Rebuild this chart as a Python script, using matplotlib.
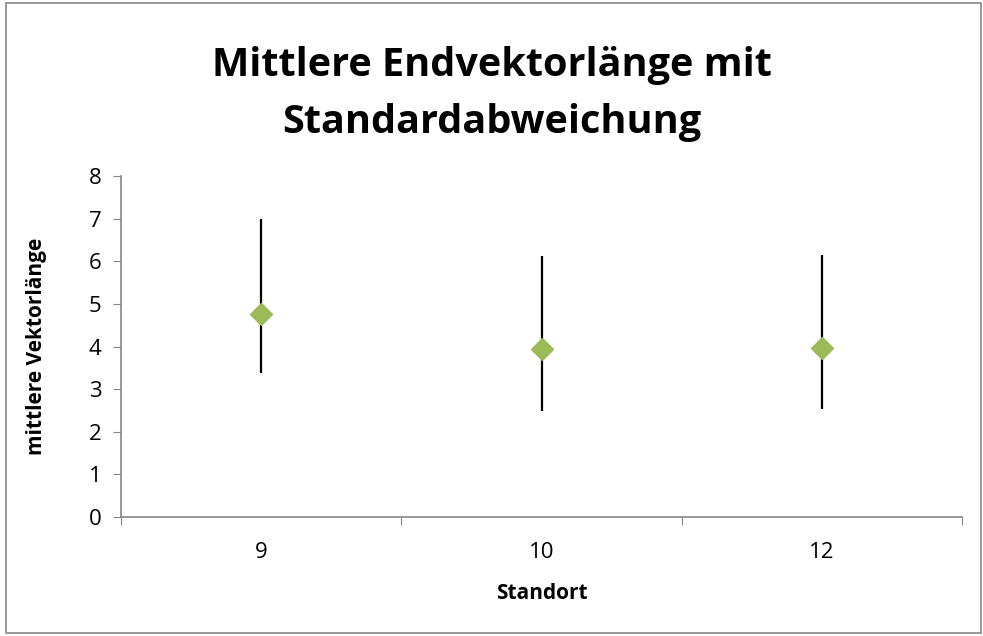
import numpy as np
import matplotlib.pyplot as plt
from matplotlib.patches import Rectangle

# Data
standorte = ['9', '10', '12']
mittelwert = [4.77, 3.95, 3.97]
obere_grenze = [7.00, 6.12, 6.15]
untere_grenze = [3.39, 2.50, 2.53]

err_low = np.array(mittelwert) - np.array(untere_grenze)
err_high = np.array(obere_grenze) - np.array(mittelwert)

plt.rcParams['font.family'] = ['Open Sans', 'DejaVu Sans']

fig = plt.figure(figsize=(9.83, 6.36), dpi=100)
ax = fig.add_axes([0.123, 0.187, 0.856, 0.536])

x = np.arange(len(standorte))
ax.errorbar(x, mittelwert, yerr=[err_low, err_high], fmt='D', color='#9BBB59',
            markersize=11, ecolor='black', elinewidth=1.6, capsize=0, zorder=3)

ax.set_xlim(-0.5, len(standorte) - 0.5)
ax.set_ylim(0, 8)
ax.set_yticks(range(0, 9))

# category labels centred, tick marks between categories
ax.set_xticks(np.arange(-0.5, len(standorte)), labels=[''] * (len(standorte) + 1))
ax.set_xticks(x, labels=standorte, minor=True)
ax.tick_params(axis='x', which='minor', length=0, pad=18, labelsize=16)
ax.tick_params(axis='x', which='major', length=6, direction='out', color='#868686')
ax.tick_params(axis='y', length=6, direction='out', color='#868686', labelsize=16, pad=8)

for s in ['top', 'right']:
    ax.spines[s].set_visible(False)
for s in ['left', 'bottom']:
    ax.spines[s].set_color('#868686')
    ax.spines[s].set_linewidth(1.2)

ax.set_xlabel('Standort', fontsize=15, fontweight='bold', labelpad=14)
ax.set_ylabel('mittlere Vektorlänge', fontsize=15, fontweight='bold', labelpad=30)

fig.text(0.5, 0.852, 'Mittlere Endvektorlänge mit\nStandardabweichung', ha='center', va='center',
         fontsize=28.5, fontweight='bold', linespacing=1.6)

# chart border
fig.patches.append(Rectangle((0.006, 0.004), 0.992, 0.992, transform=fig.transFigure,
                             fill=False, edgecolor='#868686', linewidth=1.2))

fig.savefig('out.png', dpi=100)
